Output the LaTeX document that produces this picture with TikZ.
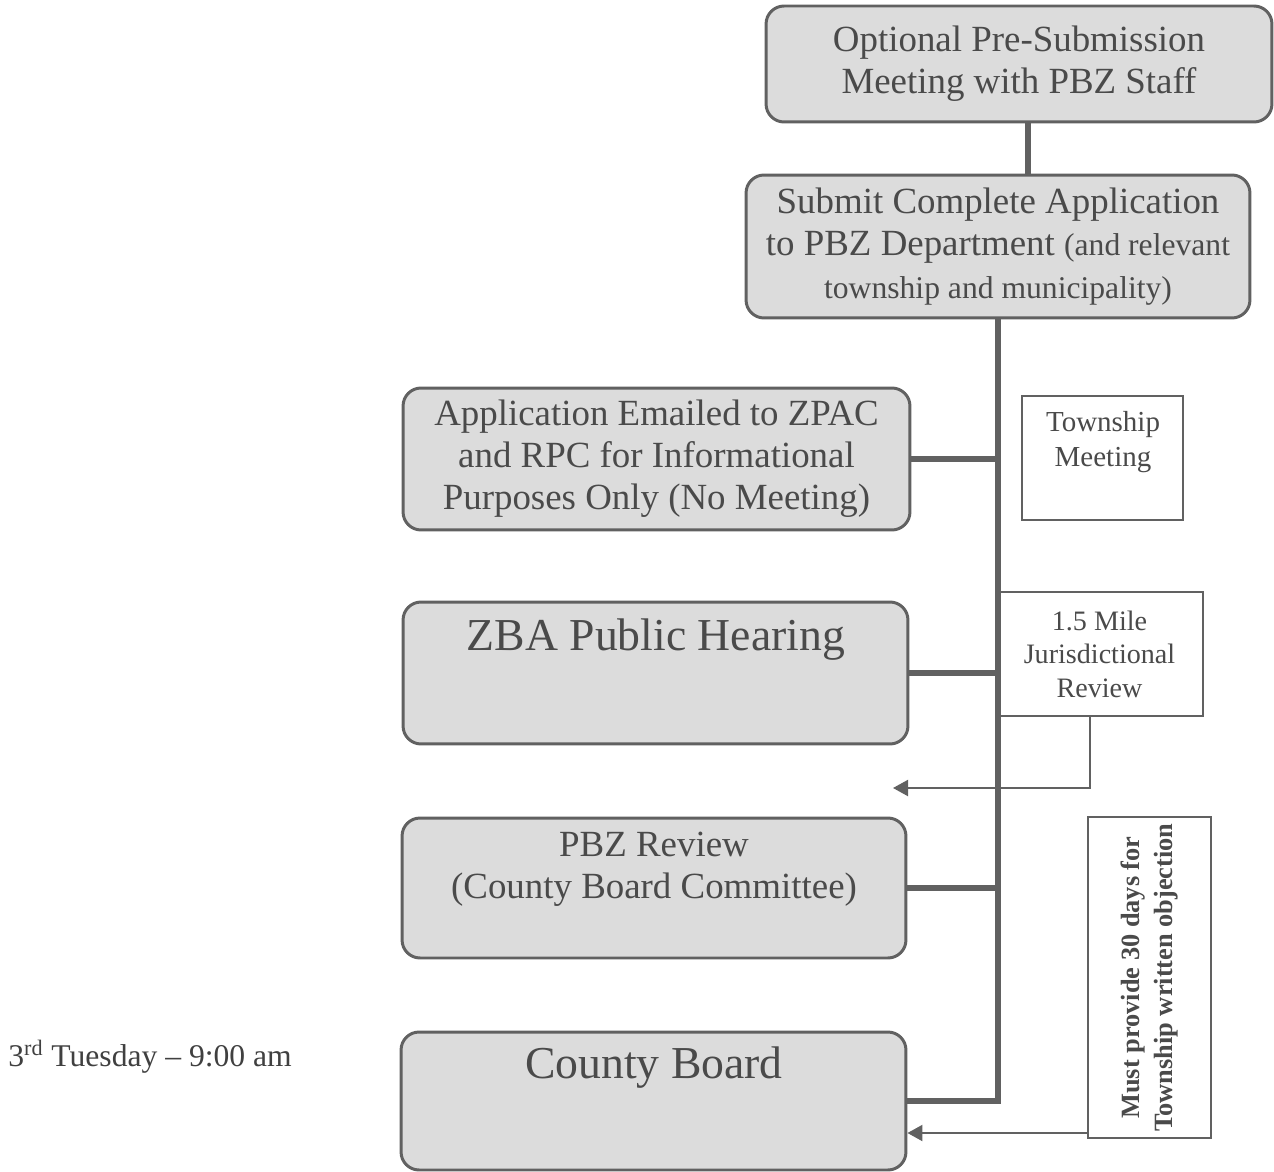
\documentclass[tikz,border=0pt]{standalone}
\usepackage{fontspec}
\setmainfont{Liberation Serif}
\usetikzlibrary{positioning, calc, arrows.meta}
\definecolor{ink}{HTML}{4A4A4A}
\definecolor{boxgrey}{HTML}{DCDCDC}
\colorlet{line color}{black!62}
\tikzset{stage/.style={draw=line color, fill=boxgrey, line width=1.7pt, rounded corners=0.36cm, inner sep=0pt, text=ink, align=center, font=\fontsize{21}{24}\selectfont}}
\tikzset{stagetext/.style={inner sep=0pt, text=ink, align=center, font=\fontsize{21}{24}\selectfont}}
\tikzset{note/.style={draw=line color, fill=white, line width=1.4pt, inner sep=0pt, text=ink, align=center, font=\fontsize{16}{19}\selectfont}}
\tikzset{flow/.style={line color, line width=2.9pt}}
\tikzset{notice/.style={line color, line width=1.2pt, -{Triangle[length=0.3cm, width=0.32cm]}}}

\begin{document}
\begin{tikzpicture}[x=0.02cm, y=-0.02cm]
    \useasboundingbox (0,0) rectangle (1274,1172);

    \node[stage, minimum width=10.12cm, minimum height=2.32cm] (pre) at (1019,64) {Optional Pre-Submission\\Meeting with PBZ Staff};
    \node[stage, minimum width=10.08cm, minimum height=2.86cm] (submit) at (998,246.5) {Submit Complete Application\\to PBZ Department {\fontsize{18}{21}\selectfont(and relevant}\\{\fontsize{18}{21}\selectfont township and municipality)}};
    \node[stage, minimum width=10.14cm, minimum height=2.84cm] (emailed) at (656.5,459) {Application Emailed to ZPAC\\and RPC for Informational\\Purposes Only (No Meeting)};
    \node[stage, minimum width=10.1cm, minimum height=2.84cm] (zba) at (655.5,673) {};
    \node[stage, minimum width=10.08cm, minimum height=2.8cm] (pbzrev) at (654,888) {};
    \node[stage, minimum width=10.1cm, minimum height=2.76cm] (county) at (653.5,1101) {};

    \node[stagetext, font=\fontsize{26}{30}\selectfont] (zbatext) at (656,640) {ZBA Public Hearing};
    \node[stagetext] (pbzrevtext) at (654,869) {PBZ Review\\(County Board Committee)};
    \node[stagetext, font=\fontsize{26}{30}\selectfont] (countytext) at (654,1068) {County Board};

    \node[note, minimum width=3.22cm, minimum height=2.48cm] (township) at (1102.5,458) {};
    \node[stagetext, font=\fontsize{16.5}{19.5}\selectfont] (townshiptext) at (1103,442) {Township\\Meeting};
    \node[note, minimum width=4.14cm, minimum height=2.48cm] (mile) at (1099.5,654) {1.5 Mile\\Jurisdictional\\Review};
    \node[note, rotate=90, minimum width=6.42cm, minimum height=2.46cm, font=\bfseries\fontsize{15}{18.5}\selectfont] (must) at (1149.5,977.5) {Must provide 30 days for\\Township written objection};

    \node[anchor=west, inner sep=0pt, text=black!75, font=\fontsize{18}{21}\selectfont] (meet) at (8,1057) {3\textsuperscript{rd} Tuesday -- 9:00 am};

    % spine
    \coordinate (link) at (1028,0);
    \draw[flow] (pre.south -| link) -- (submit.north -| link);
    \draw[flow] (submit.south) -- (submit.south |- county.east) -- (county.east);
    \foreach \n in {emailed, zba, pbzrev}
        \draw[flow] (\n.east) -- (\n.east -| submit.south);

    % notices
    \coordinate (back) at (1090,0);
    \coordinate (zbaend) at (893,788);
    \coordinate (late) at (0,1133);
    \draw[notice] (mile.south -| back) |- (zbaend);
    \draw[notice] (must.north |- late) -- (county.east |- late);
\end{tikzpicture}
\end{document}
